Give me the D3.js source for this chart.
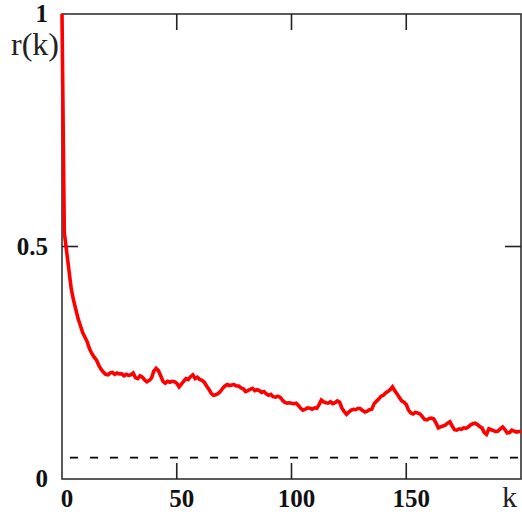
<!DOCTYPE html>
<html>
<head>
<meta charset="utf-8">
<script src="https://cdn.jsdelivr.net/npm/d3@7"></script>
<style>
  body { margin: 0; background: #fff; }
  svg { display: block; }
</style>
</head>
<body>
<svg id="chart" width="522" height="515"></svg>
<script>
// r(k), one value per lag k = 0..200
const rValues = [
  1.0, 0.53, 0.49, 0.45, 0.41, 0.385, 0.365, 0.345, 0.33, 0.315,
  0.305, 0.295, 0.28, 0.27, 0.262, 0.256, 0.245, 0.236, 0.23, 0.225,
  0.224, 0.228, 0.229, 0.225, 0.228, 0.226, 0.226, 0.222, 0.225, 0.223,
  0.224, 0.228, 0.218, 0.216, 0.222, 0.219, 0.213, 0.209, 0.212, 0.217,
  0.232, 0.238, 0.233, 0.222, 0.21, 0.206, 0.21, 0.208, 0.21, 0.209,
  0.206, 0.198, 0.204, 0.21, 0.216, 0.214, 0.22, 0.224, 0.216, 0.219,
  0.214, 0.212, 0.208, 0.2, 0.193, 0.184, 0.18, 0.181, 0.184, 0.188,
  0.195, 0.2, 0.203, 0.201, 0.202, 0.203, 0.2, 0.2, 0.196, 0.194,
  0.188, 0.19, 0.193, 0.195, 0.19, 0.192, 0.19, 0.186, 0.188, 0.183,
  0.18, 0.182, 0.177, 0.176, 0.178, 0.176, 0.17, 0.165, 0.163, 0.164,
  0.163, 0.162, 0.163, 0.158, 0.152, 0.148, 0.15, 0.153, 0.152, 0.15,
  0.153, 0.152, 0.16, 0.17, 0.166, 0.164, 0.163, 0.166, 0.162, 0.164,
  0.168, 0.165, 0.152, 0.145, 0.139, 0.144, 0.148, 0.15, 0.149, 0.152,
  0.151, 0.147, 0.144, 0.146, 0.149, 0.15, 0.162, 0.167, 0.172, 0.178,
  0.18, 0.185, 0.188, 0.192, 0.198, 0.19, 0.183, 0.175, 0.168, 0.165,
  0.16, 0.148, 0.142, 0.14, 0.143, 0.142, 0.14, 0.134, 0.128, 0.127,
  0.13, 0.131, 0.129, 0.12, 0.11, 0.112, 0.114, 0.116, 0.12, 0.123,
  0.114, 0.106, 0.105, 0.108, 0.107, 0.11, 0.109, 0.112, 0.116, 0.119,
  0.12, 0.117, 0.113, 0.11, 0.1, 0.096, 0.108, 0.106, 0.104, 0.102,
  0.103, 0.108, 0.112, 0.106, 0.099, 0.1, 0.105, 0.103, 0.101, 0.102,
  0.102
];
const xTicks = [0, 50, 100, 150];
const yTicks = [0, 0.5, 1];
const yTickLabels = ["0", "0.5", "1"];
const threshold = [0.046];

const RKChart = function(id) {
  let svg = d3.select("#" + id);
  let left = 62, right = 521, top = 14, bottom = 479;
  let tickLen = 16;

  let x = d3.scaleLinear().domain([0, 200]).range([left, right]);
  let y = d3.scaleLinear().domain([0, 1]).range([bottom, top]);

  // frame
  svg.append("rect")
    .attr("x", left)
    .attr("y", top)
    .attr("width", right - left)
    .attr("height", bottom - top)
    .attr("fill", "none")
    .attr("stroke", "#333")
    .attr("stroke-width", 1.6);

  // inner ticks, bottom + top
  let inner = xTicks.filter(d => d > 0);
  svg.selectAll(".xtick-b")
    .data(inner)
    .enter()
    .append("line")
    .attr("x1", d => x(d)).attr("x2", d => x(d))
    .attr("y1", bottom).attr("y2", bottom - tickLen)
    .attr("stroke", "#222").attr("stroke-width", 1.6);
  svg.selectAll(".xtick-t")
    .data(inner)
    .enter()
    .append("line")
    .attr("x1", d => x(d)).attr("x2", d => x(d))
    .attr("y1", top).attr("y2", top + tickLen)
    .attr("stroke", "#222").attr("stroke-width", 1.6);

  // inner ticks, left + right
  let midY = yTicks.filter(d => d > 0 && d < 1);
  svg.selectAll(".ytick-l")
    .data(midY)
    .enter()
    .append("line")
    .attr("x1", left).attr("x2", left + tickLen)
    .attr("y1", d => y(d)).attr("y2", d => y(d))
    .attr("stroke", "#222").attr("stroke-width", 1.6);
  svg.selectAll(".ytick-r")
    .data(midY)
    .enter()
    .append("line")
    .attr("x1", right).attr("x2", right - tickLen)
    .attr("y1", d => y(d)).attr("y2", d => y(d))
    .attr("stroke", "#222").attr("stroke-width", 1.6);

  // dashed reference level
  svg.selectAll(".thr")
    .data(threshold)
    .enter()
    .append("line")
    .attr("x1", left + 8).attr("x2", right)
    .attr("y1", d => y(d)).attr("y2", d => y(d))
    .attr("stroke", "#000")
    .attr("stroke-width", 1.8)
    .attr("stroke-dasharray", "8,12");

  // tick labels
  let numFont = "'Liberation Serif', 'Times New Roman', serif";
  svg.selectAll(".xlabel")
    .data(xTicks)
    .enter()
    .append("text")
    .attr("x", d => x(d) + 5)
    .attr("y", 507)
    .attr("text-anchor", "middle")
    .style("font-family", numFont)
    .style("font-weight", "bold")
    .style("font-size", "25px")
    .attr("fill", "#111")
    .text(d => d);

  svg.selectAll(".ylabel")
    .data(yTicks)
    .enter()
    .append("text")
    .attr("x", 48)
    .attr("y", d => y(d) + 8)
    .attr("text-anchor", "end")
    .style("font-family", numFont)
    .style("font-weight", "bold")
    .style("font-size", "25px")
    .attr("fill", "#111")
    .text((d, i) => yTickLabels[i]);

  // axis names
  svg.append("text")
    .attr("x", 11)
    .attr("y", 55)
    .style("font-family", numFont)
    .style("font-size", "32px")
    .attr("fill", "#222")
    .text("r(k)");
  svg.append("text")
    .attr("x", 502)
    .attr("y", 507)
    .style("font-family", numFont)
    .style("font-size", "30px")
    .attr("fill", "#222")
    .text("k");

  // the r(k) curve
  let line = d3.line()
    .x((d, i) => x(i))
    .y(d => y(d));

  svg.append("path")
    .datum(rValues)
    .attr("d", line)
    .attr("fill", "none")
    .attr("stroke", "#ff0000")
    .attr("stroke-width", 3.6)
    .attr("stroke-linejoin", "miter");
};

RKChart("chart");
</script>
</body>
</html>
